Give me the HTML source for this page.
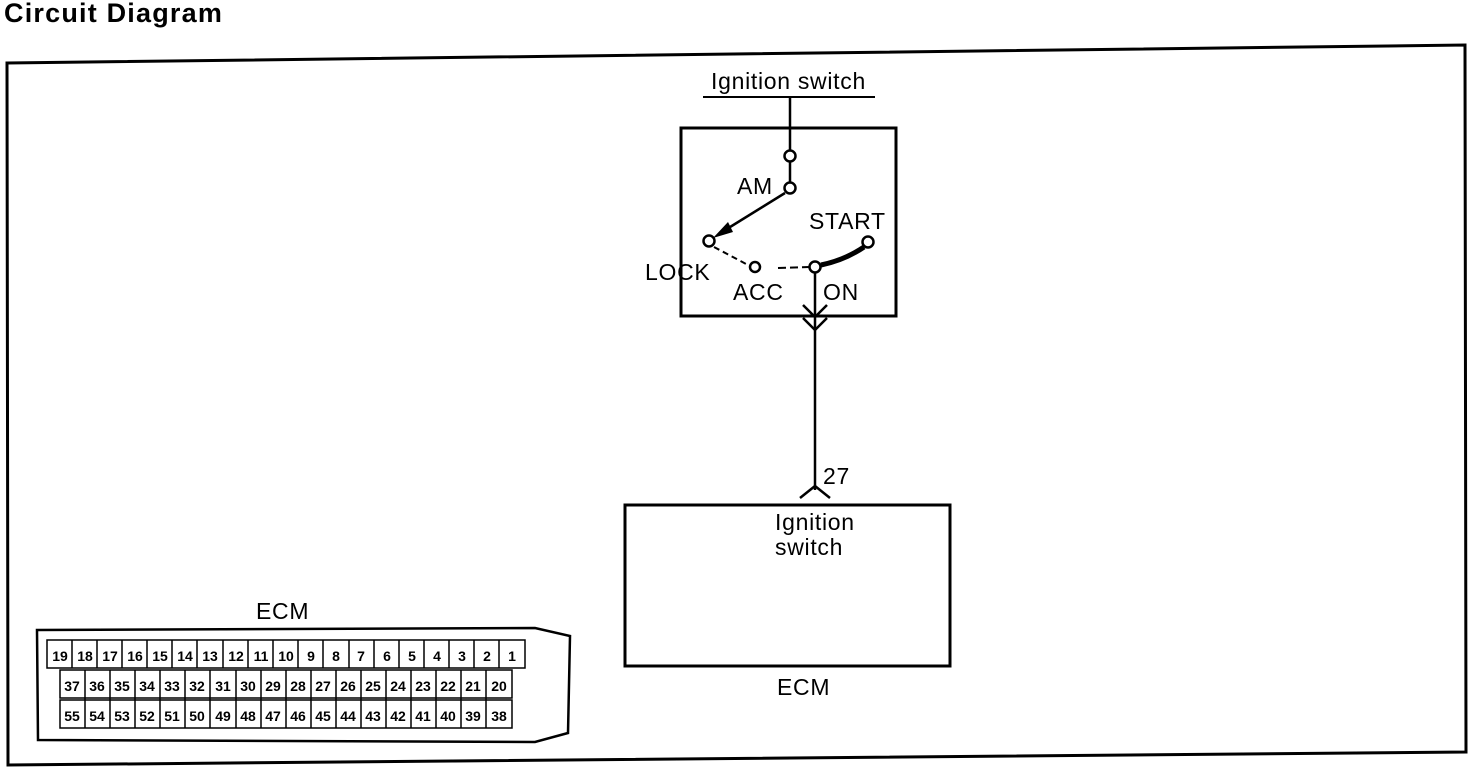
<!DOCTYPE html>
<html><head><meta charset="utf-8"><style>
body{margin:0;background:#fff;width:1472px;height:768px;overflow:hidden}
svg{display:block}
text{font-family:"Liberation Sans",sans-serif;fill:#000}
.l{font-size:23px;letter-spacing:0.7px}
</style></head><body>
<svg width="1472" height="768" viewBox="0 0 1472 768" xmlns="http://www.w3.org/2000/svg">
<text x="4" y="22" font-size="27" font-weight="bold" letter-spacing="1.2">Circuit Diagram</text>
<polygon points="7,63 1465,45 1466,752 8,765" fill="none" stroke="#000" stroke-width="3"/>
<text class="l" x="711" y="89">Ignition switch</text>
<line x1="703" y1="97" x2="875" y2="97" stroke="#000" stroke-width="2"/>
<line x1="790" y1="97" x2="790" y2="150" stroke="#000" stroke-width="2.5"/>
<rect x="681" y="128" width="215" height="188" fill="none" stroke="#000" stroke-width="3"/>
<circle cx="790" cy="156" r="5.5" fill="#fff" stroke="#000" stroke-width="2.5"/>
<line x1="790" y1="162" x2="790" y2="182" stroke="#000" stroke-width="2.5"/>
<circle cx="790" cy="188" r="5.5" fill="#fff" stroke="#000" stroke-width="2.5"/>
<text class="l" x="737" y="194">AM</text>
<line x1="785" y1="193" x2="722" y2="232" stroke="#000" stroke-width="2.5"/>
<polygon points="713,238 728,222 733,232" fill="#000"/>
<circle cx="709" cy="241" r="5.5" fill="#fff" stroke="#000" stroke-width="2.5"/>
<text class="l" x="645" y="280">LOCK</text>
<text class="l" x="809" y="229">START</text>
<path d="M714,247 L748,265" stroke="#000" stroke-width="2" stroke-dasharray="6,4" fill="none"/>
<circle cx="755" cy="267" r="5" fill="#fff" stroke="#000" stroke-width="2.5"/>
<path d="M778,268 L809,267" stroke="#000" stroke-width="2" stroke-dasharray="8,4" fill="none"/>
<path d="M821,265 Q845,260 864,247" stroke="#000" stroke-width="5" fill="none"/>
<circle cx="868" cy="242" r="5.5" fill="#fff" stroke="#000" stroke-width="2.5"/>
<circle cx="815" cy="267" r="5.5" fill="#fff" stroke="#000" stroke-width="2.5"/>
<text class="l" x="733" y="300">ACC</text>
<text class="l" x="823" y="300">ON</text>
<line x1="815" y1="273" x2="815" y2="490" stroke="#000" stroke-width="2.5"/>
<polyline points="803,305 815,317 827,305" fill="none" stroke="#000" stroke-width="2.5"/>
<polyline points="803,318 815,330 827,318" fill="none" stroke="#000" stroke-width="2.5"/>
<polyline points="800,498 815,486 830,498" fill="none" stroke="#000" stroke-width="2.5"/>
<text class="l" x="823" y="484">27</text>
<rect x="625" y="505" width="325" height="161" fill="none" stroke="#000" stroke-width="3"/>
<text class="l" x="775" y="530">Ignition</text>
<text class="l" x="775" y="555">switch</text>
<text class="l" x="777" y="695">ECM</text>
<text class="l" x="256" y="619">ECM</text>
<polygon points="37,630 535,628 570,636 568,733 535,742 38,740" fill="none" stroke="#000" stroke-width="2.5"/>
<g stroke="#000" stroke-width="1.5" fill="#fff">
<rect x="47" y="640" width="478" height="28"/>
<rect x="60" y="670" width="452" height="28"/>
<rect x="60" y="700" width="452" height="28"/>
</g>
<g stroke="#000" stroke-width="1.5">
<line x1="72" y1="640" x2="72" y2="668"/><line x1="97" y1="640" x2="97" y2="668"/><line x1="122" y1="640" x2="122" y2="668"/><line x1="147" y1="640" x2="147" y2="668"/><line x1="172" y1="640" x2="172" y2="668"/><line x1="197" y1="640" x2="197" y2="668"/><line x1="223" y1="640" x2="223" y2="668"/><line x1="248" y1="640" x2="248" y2="668"/><line x1="273" y1="640" x2="273" y2="668"/><line x1="298" y1="640" x2="298" y2="668"/><line x1="323" y1="640" x2="323" y2="668"/><line x1="349" y1="640" x2="349" y2="668"/><line x1="374" y1="640" x2="374" y2="668"/><line x1="399" y1="640" x2="399" y2="668"/><line x1="424" y1="640" x2="424" y2="668"/><line x1="449" y1="640" x2="449" y2="668"/><line x1="474" y1="640" x2="474" y2="668"/><line x1="499" y1="640" x2="499" y2="668"/>
<line x1="85" y1="670" x2="85" y2="728"/><line x1="110" y1="670" x2="110" y2="728"/><line x1="135" y1="670" x2="135" y2="728"/><line x1="160" y1="670" x2="160" y2="728"/><line x1="185" y1="670" x2="185" y2="728"/><line x1="210" y1="670" x2="210" y2="728"/><line x1="236" y1="670" x2="236" y2="728"/><line x1="261" y1="670" x2="261" y2="728"/><line x1="286" y1="670" x2="286" y2="728"/><line x1="311" y1="670" x2="311" y2="728"/><line x1="336" y1="670" x2="336" y2="728"/><line x1="361" y1="670" x2="361" y2="728"/><line x1="386" y1="670" x2="386" y2="728"/><line x1="411" y1="670" x2="411" y2="728"/><line x1="436" y1="670" x2="436" y2="728"/><line x1="461" y1="670" x2="461" y2="728"/><line x1="486" y1="670" x2="486" y2="728"/>
</g>
<g font-size="14" font-weight="bold" text-anchor="middle">
<text x="60" y="661">19</text><text x="85" y="661">18</text><text x="110" y="661">17</text><text x="135" y="661">16</text><text x="160" y="661">15</text><text x="185" y="661">14</text><text x="210" y="661">13</text><text x="236" y="661">12</text><text x="261" y="661">11</text><text x="286" y="661">10</text><text x="311" y="661">9</text><text x="336" y="661">8</text><text x="361" y="661">7</text><text x="387" y="661">6</text><text x="412" y="661">5</text><text x="437" y="661">4</text><text x="462" y="661">3</text><text x="487" y="661">2</text><text x="512" y="661">1</text>
<text x="72" y="691">37</text><text x="97" y="691">36</text><text x="122" y="691">35</text><text x="147" y="691">34</text><text x="172" y="691">33</text><text x="197" y="691">32</text><text x="223" y="691">31</text><text x="248" y="691">30</text><text x="273" y="691">29</text><text x="298" y="691">28</text><text x="323" y="691">27</text><text x="348" y="691">26</text><text x="373" y="691">25</text><text x="398" y="691">24</text><text x="423" y="691">23</text><text x="448" y="691">22</text><text x="473" y="691">21</text><text x="499" y="691">20</text>
<text x="72" y="721">55</text><text x="97" y="721">54</text><text x="122" y="721">53</text><text x="147" y="721">52</text><text x="172" y="721">51</text><text x="197" y="721">50</text><text x="223" y="721">49</text><text x="248" y="721">48</text><text x="273" y="721">47</text><text x="298" y="721">46</text><text x="323" y="721">45</text><text x="348" y="721">44</text><text x="373" y="721">43</text><text x="398" y="721">42</text><text x="423" y="721">41</text><text x="448" y="721">40</text><text x="473" y="721">39</text><text x="499" y="721">38</text>
</g>
</svg>
</body></html>
